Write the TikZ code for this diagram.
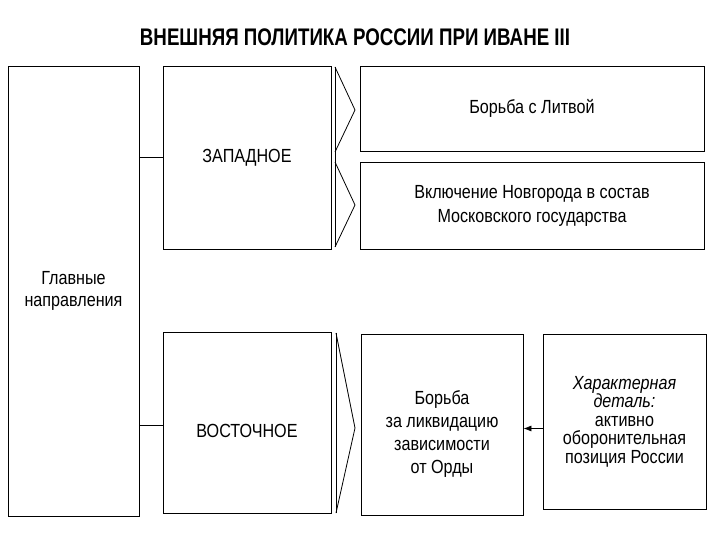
\documentclass[tikz,border=0pt]{standalone}
\usepackage{fontspec}
\setmainfont{Liberation Sans}[FakeStretch=0.85]
\newfontfamily\titlefont{Liberation Sans}[FakeStretch=0.78]
\usetikzlibrary{arrows.meta}
\usetikzlibrary{calc}

\tikzset{
  blk/.style={draw,line width=0.8pt,align=center,inner sep=2pt,font=\fontsize{19}{24}\selectfont},
  link/.style={line width=0.8pt},
}

\begin{document}
\begin{tikzpicture}[x=1pt,y=-1pt]
      \useasboundingbox (0,0) rectangle (720,540);
      \node (title) at (355,37) {\titlefont\fontsize{24}{28}\selectfont\bfseries ВНЕШНЯЯ ПОЛИТИКА РОССИИ ПРИ ИВАНЕ III};
      % left column
      \node[blk,minimum width=131,minimum height=450,font=\fontsize{19}{22}\selectfont] (glav) at (73.5,291) {Главные\\направления};
      \node[blk,minimum width=168,minimum height=183] (zap) at (247,157.5) {ЗАПАДНОЕ};
      \node[blk,minimum width=168,minimum height=181] (vos) at (247,422.5) {\rule{0pt}{30pt}ВОСТОЧНОЕ};
      % right column
      \node[blk,minimum width=344,minimum height=85] (lit) at (532,108.5) {Борьба с Литвой};
      \node[blk,minimum width=344,minimum height=87] (nov) at (532,205.5) {Включение Новгорода в состав\\Московского государства};
      \node[blk,minimum width=162,minimum height=181,font=\fontsize{19}{23}\selectfont] (orda) at (442,424.5) {\rule{0pt}{32pt}Борьба\\за ликвидацию\\зависимости\\от Орды};
      \node[blk,minimum width=163,minimum height=175,font=\fontsize{19}{18.5}\selectfont] (det) at (624.5,421.5) {\itshape Характерная\\\itshape деталь:\\активно\\оборонительная\\позиция России};
      \draw[link] (zap.west) -- (zap.west -| glav.east);
      \draw[link] ([yshift=-2.5pt]vos.west) -- ([yshift=-2.5pt]vos.west -| glav.east);
      \draw[link,-{Latex[length=8pt,width=6pt]}] ([yshift=-7pt]det.west) -- ([yshift=-7pt]det.west -| orda.east);
      % chevrons
      \draw[link] (335,67) -- (335,247);
      \draw[link] (335,67) -- (355,110) -- (335,152);
      \draw[link] (335,162) -- (355,205) -- (335,247);
      \draw[link] (336,333) -- (336,513);
      \draw[link] (336,333) -- (355,428) -- (336,513);
    \end{tikzpicture}
\end{document}
